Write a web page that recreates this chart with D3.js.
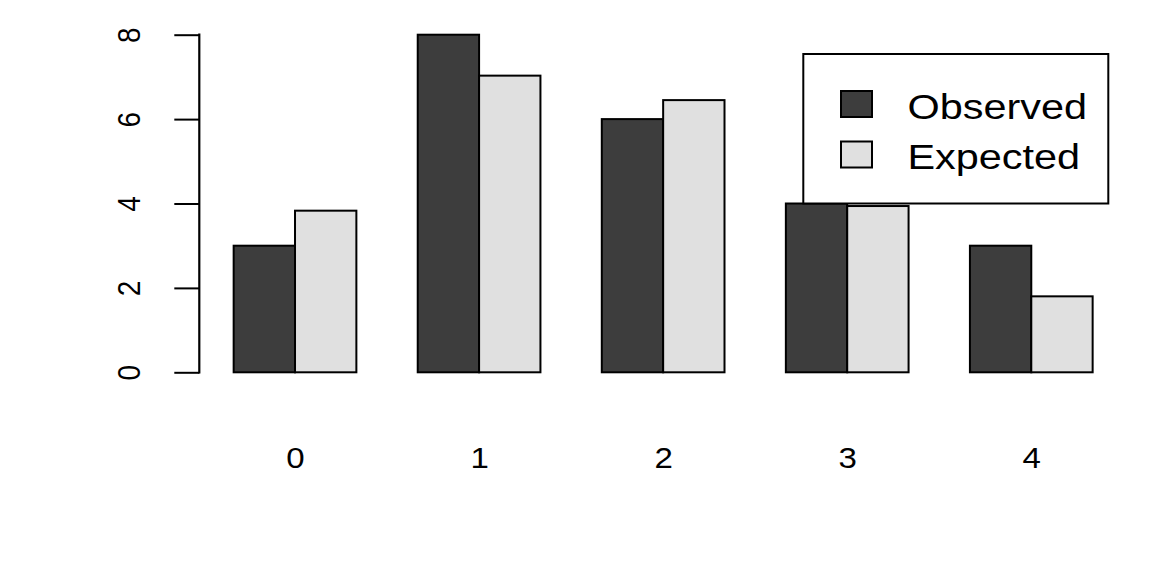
<!DOCTYPE html>
<html>
<head>
<meta charset="utf-8">
<script src="https://cdn.jsdelivr.net/npm/d3@7"></script>
<style>
  html, body { margin: 0; padding: 0; background: #ffffff; }
  svg { display: block; }
  text { font-family: "Liberation Sans", Arial, Helvetica, sans-serif; fill: #000; }
</style>
</head>
<body>
<svg id="chart" width="1152" height="576"></svg>
<script>
// ---- data ----
const categories = ["0", "1", "2", "3", "4"];
const observed = [3, 8, 6, 4, 3];
const expected = [3.83, 7.03, 6.45, 3.94, 1.80];
const seriesNames = ["Observed", "Expected"];
const seriesColors = ["#3d3d3d", "#e0e0e0"];
const yTicks = [0, 2, 4, 6, 8];

// ---- layout ----
const plot = { left: 199.3, right: 1127, top: 21.2, bottom: 385.8 };

const svg = d3.select("#chart");

// R barplot(beside=TRUE) coordinates: each group = 2 bars + 1 gap unit
const nUnits = categories.length * 3;     // 15
const xDomain = [1 - 0.04 * (nUnits - 1), nUnits + 0.04 * (nUnits - 1)];
const x = d3.scaleLinear().domain(xDomain).range([plot.left, plot.right]);
const y = d3.scaleLinear().domain([-0.32, 8.32]).range([plot.bottom, plot.top]);

const bars = [];
categories.forEach((c, i) => {
  bars.push({ cat: c, s: 0, v: observed[i], x0: 1 + 3 * i });
  bars.push({ cat: c, s: 1, v: expected[i], x0: 2 + 3 * i });
});

svg.append("g").selectAll("rect").data(bars).join("rect")
  .attr("x", d => x(d.x0))
  .attr("y", d => y(d.v))
  .attr("width", d => x(d.x0 + 1) - x(d.x0))
  .attr("height", d => y(0) - y(d.v))
  .attr("fill", d => seriesColors[d.s])
  .attr("stroke", "#000")
  .attr("stroke-width", 2);

// ---- y axis ----
const yAxis = svg.append("g").attr("transform", `translate(${plot.left},0)`)
  .call(d3.axisLeft(y).tickValues(yTicks).tickSize(25).tickSizeOuter(0).tickFormat(d3.format("d")));
yAxis.select(".domain").remove();
yAxis.selectAll(".tick line").attr("stroke", "#000").attr("stroke-width", 2);
yAxis.append("line")
  .attr("x1", 0).attr("x2", 0)
  .attr("y1", y(yTicks[0])).attr("y2", y(yTicks[yTicks.length - 1]))
  .attr("stroke", "#000").attr("stroke-width", 2.2).attr("stroke-linecap", "square");
yAxis.selectAll(".tick text")
  .attr("x", null).attr("dy", null)
  .attr("transform", "translate(-59.5,0) scale(1.1,1) rotate(-90)")
  .attr("text-anchor", "middle")
  .style("font-family", '"Liberation Sans", Arial, Helvetica, sans-serif')
  .style("font-size", "28px")
  .attr("fill", "#000");

// ---- x labels ----
const centers = categories.map((c, i) => 2 + 3 * i);
const xAxis = svg.append("g").attr("transform", "translate(0,468)")
  .call(d3.axisBottom(x).tickValues(centers).tickSize(0).tickFormat((d, i) => categories[i]));
xAxis.select(".domain").remove();
xAxis.selectAll(".tick line").remove();
xAxis.selectAll(".tick text")
  .attr("y", null).attr("dy", null)
  .attr("transform", "scale(1.12,1)")
  .attr("text-anchor", "middle")
  .style("font-family", '"Liberation Sans", Arial, Helvetica, sans-serif')
  .style("font-size", "29.5px")
  .attr("fill", "#000");

// ---- legend ----
const lg = svg.append("g");
lg.append("rect")
  .attr("x", 803.3).attr("y", 54)
  .attr("width", 1108.3 - 803.3).attr("height", 203.5 - 54)
  .attr("fill", "#fff").attr("stroke", "#000").attr("stroke-width", 2);
seriesNames.forEach((name, i) => {
  lg.append("rect")
    .attr("x", 841).attr("y", 91 + i * 50.5)
    .attr("width", 31).attr("height", 26)
    .attr("fill", seriesColors[i]).attr("stroke", "#000").attr("stroke-width", 2);
  lg.append("text")
    .attr("transform", `translate(907.5,${119 + i * 49.5}) scale(1.15,1)`)
    .style("font-size", "36px")
    .text(name);
});
</script>
</body>
</html>
